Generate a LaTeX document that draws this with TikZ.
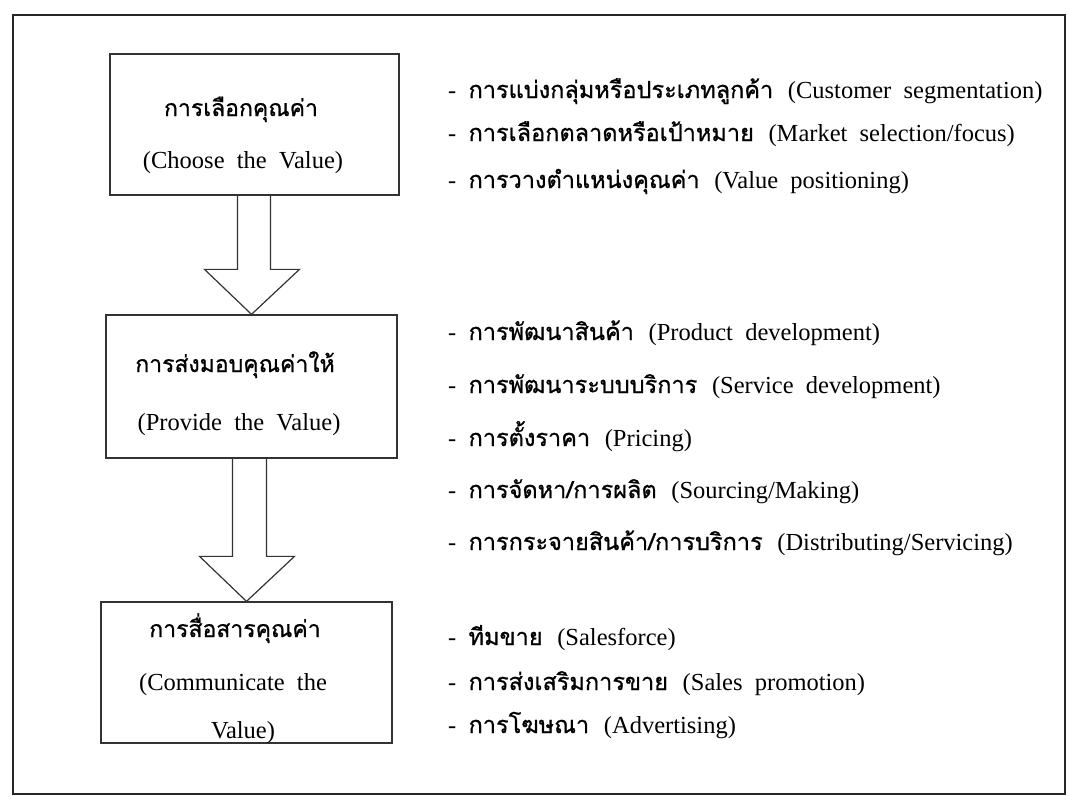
\documentclass[tikz,border=0pt]{standalone}
\usepackage{fontspec}
\setmainfont{Liberation Serif}
\newfontfamily\thai[Script=Thai,FakeBold=0.9]{Loma}
\usetikzlibrary{calc}
\newcommand{\ws}{\hspace{0.5em}}
\newcommand{\tg}{\hspace{0.6em}}
\tikzset{
  frame/.style={draw=black!85, line width=2.4pt},
  box/.style={draw=black!80, line width=1.3pt, inner sep=0pt},
  blockarrow/.style={draw=black!80, line width=1.2pt, line join=miter},
  txt/.style={inner sep=0pt, font=\fontsize{24.5}{28}\selectfont},
  thx/.style={inner sep=0pt, font=\thai\fontsize{23}{27}\selectfont},
  item/.style={inner sep=0pt, anchor=base west, font=\fontsize{24.5}{28}\selectfont}
}
\newcommand{\thtxt}[1]{{\thai\fontsize{23.5}{27}\selectfont #1}}
\begin{document}
\begin{tikzpicture}[x=1pt,y=-1pt]
\useasboundingbox (0,0) rectangle (1068,803);
\draw[frame] (13,15) rectangle (1065,794);

% boxes
\node[box, minimum width=289pt, minimum height=141pt] (b1) at (254.5,124.5) {};
\node[box, minimum width=291pt, minimum height=143pt] (b2) at (251.5,386.5) {};
\node[box, minimum width=291pt, minimum height=141pt] (b3) at (246.5,672.5) {};

% box texts
\node[thx, anchor=base] (t1a) at (241,116) {การเลือกคุณค่า};
\node[txt, anchor=base] (t1b) at (243,168) {(Choose\ws the\ws Value)};
\node[thx, anchor=base] (t2a) at (235,372) {การส่งมอบคุณค่าให้};
\node[txt, anchor=base] (t2b) at (239,430) {(Provide\ws the\ws Value)};
\node[thx, anchor=base] (t3a) at (235,637) {การสื่อสารคุณค่า};
\node[txt, anchor=base] (t3b) at (233,690) {(Communicate\ws the};
\node[txt, anchor=base] (t3c) at (243,738) {Value)};

% block arrows
\draw[blockarrow] ($(b1.south)+(-17,0)$) |- ($(b2.north)+(-47,-45)$) -- (b2.north)
  -- ($(b2.north)+(48,-45)$) -| ($(b1.south)+(16,0)$);
\draw[blockarrow] ($(b2.south)+(-19,0)$) |- ($(b3.north)+(-47,-45)$) -- (b3.north)
  -- ($(b3.north)+(48,-45)$) -| ($(b2.south)+(15,0)$);

% right column
\node[item] (r1) at (448,98) {-\ws\thtxt{การแบ่งกลุ่มหรือประเภทลูกค้า}\tg(Customer\ws segmentation)};
\node[item] (r2) at (448,141) {-\ws\thtxt{การเลือกตลาดหรือเป้าหมาย}\tg(Market\ws selection/focus)};
\node[item] (r3) at (448,188) {-\ws\thtxt{การวางตำแหน่งคุณค่า}\tg(Value\ws positioning)};

\node[item] (r4) at (448,340) {-\ws\thtxt{การพัฒนาสินค้า}\tg(Product\ws development)};
\node[item] (r5) at (448,393) {-\ws\thtxt{การพัฒนาระบบบริการ}\tg(Service\ws development)};
\node[item] (r6) at (448,446) {-\ws\thtxt{การตั้งราคา}\tg(Pricing)};
\node[item] (r7) at (448,498) {-\ws\thtxt{การจัดหา/การผลิต}\tg(Sourcing/Making)};
\node[item] (r8) at (448,550) {-\ws\thtxt{การกระจายสินค้า/การบริการ}\tg(Distributing/Servicing)};

\node[item] (r9) at (448,645) {-\ws\thtxt{ทีมขาย}\tg(Salesforce)};
\node[item] (r10) at (448,690) {-\ws\thtxt{การส่งเสริมการขาย}\tg(Sales\ws promotion)};
\node[item] (r11) at (448,733) {-\ws\thtxt{การโฆษณา}\tg(Advertising)};
\end{tikzpicture}
\end{document}
